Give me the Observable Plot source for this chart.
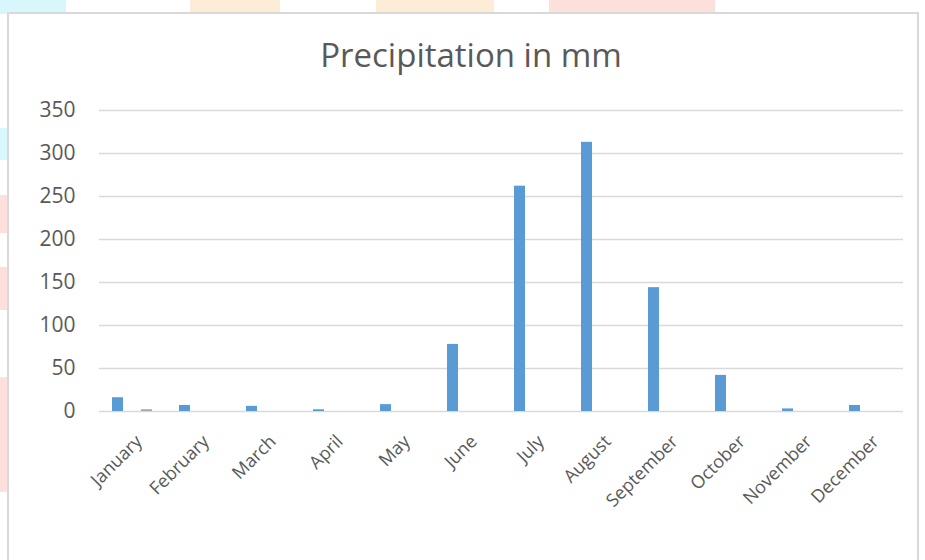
<!DOCTYPE html>
<html>
<head>
<meta charset="utf-8">
<script src="https://cdn.jsdelivr.net/npm/d3@7"></script>
<script src="https://cdn.jsdelivr.net/npm/@observablehq/plot@0.6"></script>
<style>
  html, body { margin: 0; padding: 0; width: 925px; height: 560px; overflow: hidden; background: #fff; }
  #page { position: relative; width: 925px; height: 560px; }
  .blob { position: absolute; }
  #frame {
    position: absolute; left: 7px; top: 12px; width: 912px; height: 600px;
    border: 2px solid #d9d9d9; background: #fff; box-sizing: border-box;
  }
  #title {
    position: absolute; left: 0; width: 942px; top: 32px; text-align: center;
    font-family: "Open Sans", sans-serif; font-size: 33px; color: #595959;
  }
  #chart { position: absolute; left: 0; top: 0; }
</style>
</head>
<body>
<div id="page">
  <!-- pale decorative shapes peeking out around the chart frame -->
  <div class="blob" style="left:0;top:0;width:66px;height:14px;background:#d7f7fc"></div>
  <div class="blob" style="left:190px;top:0;width:90px;height:14px;background:#fdecd6"></div>
  <div class="blob" style="left:376px;top:0;width:118px;height:14px;background:#fdecd6"></div>
  <div class="blob" style="left:549px;top:0;width:166px;height:14px;background:#fde0dc"></div>
  <div class="blob" style="left:0;top:128px;width:8px;height:32px;background:#d7f7fc"></div>
  <div class="blob" style="left:0;top:195px;width:8px;height:38px;background:#fde0dc"></div>
  <div class="blob" style="left:0;top:267px;width:8px;height:43px;background:#fde0dc"></div>
  <div class="blob" style="left:0;top:377px;width:8px;height:115px;background:#fde0dc"></div>
  <div id="frame"></div>
  <div id="title">Precipitation in mm</div>
  <div id="chart"></div>
</div>
<script>
// Monthly precipitation (mm)
const months = ["January", "February", "March", "April", "May", "June",
                "July", "August", "September", "October", "November", "December"];
const precipitation = [16, 7, 6, 2, 8, 78, 262, 313, 144, 42, 3, 7];
const secondSeries = [2, 0, 0, 0, 0, 0, 0, 0, 0, 0, 0, 0];
const seriesNames = ["Precipitation", "Other"];
const yTicks = [0, 50, 100, 150, 200, 250, 300, 350];

const rows = months.flatMap((m, i) => [
  {month: m, series: seriesNames[0], value: precipitation[i]},
  {month: m, series: seriesNames[1], value: secondSeries[i]}
]);

const chart = Plot.plot({
  width: 925,
  height: 560,
  marginLeft: 97,
  marginRight: 21,
  marginTop: 110,
  marginBottom: 149,
  style: {background: "transparent", fontFamily: "'Open Sans', sans-serif", color: "#595959"},
  fx: {domain: months, padding: 0},
  x: {domain: seriesNames, paddingInner: 0.61, paddingOuter: 0.446, axis: null},
  y: {domain: [0, 350]},
  color: {domain: seriesNames, range: ["#5b9bd5", "#a5a5a5"]},
  marks: [
    Plot.gridY(yTicks, {stroke: "#d9d9d9", strokeOpacity: 1, strokeWidth: 1.4}),
    Plot.barY(rows, {fx: "month", x: "series", y: "value", fill: "series"}),
    Plot.axisY(yTicks, {tickSize: 0, tickPadding: 24, fontSize: 21, fill: "#595959", label: null}),
    Plot.axisFx({anchor: "bottom", tickSize: 0, tickPadding: 27, tickRotate: -45, dx: 6,
                 fontSize: 18, fill: "#595959", label: null})
  ]
});
document.getElementById("chart").appendChild(chart);
</script>
</body>
</html>
